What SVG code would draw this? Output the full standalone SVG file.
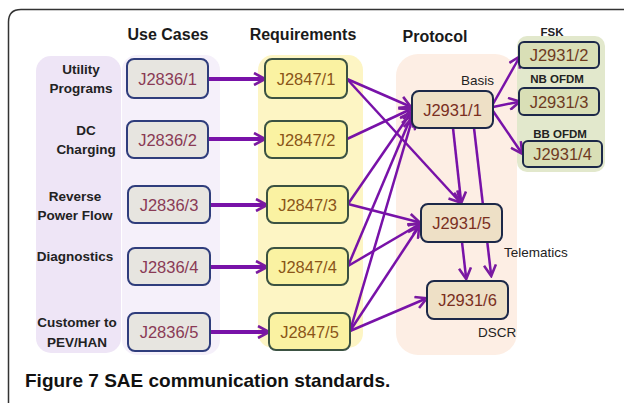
<svg xmlns="http://www.w3.org/2000/svg" width="624" height="403" viewBox="0 0 624 403">
<defs>
<style>
.hdr{font-family:"Liberation Sans",Arial,sans-serif;font-weight:bold;font-size:16px;fill:#1a1a1a;text-anchor:middle}
.lbl{font-family:"Liberation Sans",Arial,sans-serif;font-weight:bold;font-size:13.5px;fill:#222;text-anchor:middle}
.sm{font-family:"Liberation Sans",Arial,sans-serif;font-weight:bold;font-size:11.5px;fill:#222;text-anchor:middle}
.note{font-family:"Liberation Sans",Arial,sans-serif;font-size:13.5px;fill:#222}
.bt{font-family:"Liberation Sans",Arial,sans-serif;font-size:16.5px;text-anchor:middle}
.uc rect{fill:#e7e5e0;stroke:#2f3d7c;stroke-width:2}
.uc text{fill:#8a3a55}
.rq rect{fill:#faf2a2;stroke:#3b5242;stroke-width:2}
.rq text{fill:#8a5518}
.pr rect{fill:#eee0c6;stroke:#1c2848;stroke-width:2}
.pr text{fill:#7a2f1f}
.gr rect{fill:#d9dfb6;stroke:#1c2848;stroke-width:2}
.gr text{fill:#6e3a1f}
.h{stroke:#7812a8;stroke-width:4;fill:none;marker-end:url(#ah)}
.d{stroke:#7812a8;stroke-width:2.5;fill:none;marker-end:url(#ah)}
.cap{font-family:"Liberation Sans",Arial,sans-serif;font-weight:bold;font-size:19px;fill:#111}
</style>
<marker id="ah" viewBox="0 0 14 14" refX="10" refY="7" markerWidth="14" markerHeight="14" markerUnits="userSpaceOnUse" orient="auto">
<path d="M1,1 L12,7 L1,13" fill="none" stroke="#7a1aa0" stroke-width="2.6" stroke-linejoin="miter"/>
</marker>
</defs>
<rect width="624" height="403" fill="#fff"/>
<path d="M8.5,403 L8.5,22 Q8.5,9.5 21,9.5 L624,9.5" fill="none" stroke="#333" stroke-width="1.5"/>

<g id="backgrounds">
<rect x="36" y="56" width="85" height="297" rx="15" fill="#eee5f6"/>
<rect x="122" y="55" width="98" height="300" rx="15" fill="#f5f0fa"/>
<rect x="258" y="55" width="105" height="293" rx="15" fill="#fdf5c4"/>
<rect x="396" y="54" width="121" height="301" rx="22" fill="#fdeee4"/>
<rect x="517" y="36" width="88" height="136" rx="10" fill="#e2e8cc"/>
</g>

<g id="headers">
<text class="hdr" x="168" y="40">Use Cases</text>
<text class="hdr" x="303" y="40">Requirements</text>
<text class="hdr" x="435" y="42">Protocol</text>
</g>

<g id="labels">
<text class="lbl" x="81" y="74">Utility</text>
<text class="lbl" x="81" y="93">Programs</text>
<text class="lbl" x="86" y="135">DC</text>
<text class="lbl" x="86" y="154">Charging</text>
<text class="lbl" x="75" y="201">Reverse</text>
<text class="lbl" x="75" y="220">Power Flow</text>
<text class="lbl" x="75" y="261">Diagnostics</text>
<text class="lbl" x="77" y="327">Customer to</text>
<text class="lbl" x="77" y="347">PEV/HAN</text>
</g>

<g id="connectors">
<line class="h" x1="208" y1="79" x2="263" y2="79"/>
<line class="h" x1="208" y1="139" x2="263" y2="139"/>
<line class="h" x1="210" y1="205" x2="265" y2="205"/>
<line class="h" x1="210" y1="267" x2="265" y2="267"/>
<line class="h" x1="210" y1="332" x2="267" y2="332"/>
<line class="d" x1="347" y1="79" x2="409" y2="106"/>
<line class="d" x1="347" y1="79" x2="459" y2="201"/>
<line class="d" x1="347" y1="139" x2="409" y2="110"/>
<line class="d" x1="348" y1="204" x2="410" y2="114"/>
<line class="d" x1="348" y1="204" x2="418" y2="222"/>
<line class="d" x1="348" y1="266" x2="411" y2="117"/>
<line class="d" x1="348" y1="266" x2="418" y2="225"/>
<line class="d" x1="350" y1="331" x2="412" y2="120"/>
<line class="d" x1="350" y1="331" x2="418" y2="228"/>
<line class="d" x1="350" y1="331" x2="425" y2="299"/>
<line class="d" x1="493" y1="104" x2="519" y2="58"/>
<line class="d" x1="493" y1="107" x2="518" y2="102"/>
<line class="d" x1="493" y1="111" x2="521" y2="152"/>
<line class="d" x1="453" y1="128" x2="461" y2="201"/>
<line class="d" x1="474" y1="128" x2="491" y2="274"/>
<line class="d" x1="462" y1="242" x2="466" y2="277"/>
</g>

<g id="J2836-1" class="uc"><rect x="127" y="59" width="81" height="39" rx="7"/><text class="bt" x="167.5" y="84.5">J2836/1</text></g>
<g id="J2836-2" class="uc"><rect x="127" y="121" width="81" height="37" rx="7"/><text class="bt" x="167.5" y="145.5">J2836/2</text></g>
<g id="J2836-3" class="uc"><rect x="128" y="186" width="82" height="37" rx="7"/><text class="bt" x="169" y="210.5">J2836/3</text></g>
<g id="J2836-4" class="uc"><rect x="128" y="248" width="82" height="37" rx="7"/><text class="bt" x="169" y="272.5">J2836/4</text></g>
<g id="J2836-5" class="uc"><rect x="128" y="313" width="82" height="38" rx="7"/><text class="bt" x="169" y="338">J2836/5</text></g>

<g id="J2847-1" class="rq"><rect x="265" y="59" width="82" height="39" rx="7"/><text class="bt" x="306" y="84.5">J2847/1</text></g>
<g id="J2847-2" class="rq"><rect x="265" y="121" width="82" height="37" rx="7"/><text class="bt" x="306" y="145.5">J2847/2</text></g>
<g id="J2847-3" class="rq"><rect x="267" y="186" width="81" height="37" rx="7"/><text class="bt" x="307.5" y="210.5">J2847/3</text></g>
<g id="J2847-4" class="rq"><rect x="267" y="248" width="81" height="37" rx="7"/><text class="bt" x="307.5" y="272.5">J2847/4</text></g>
<g id="J2847-5" class="rq"><rect x="269" y="313" width="81" height="37" rx="7"/><text class="bt" x="309.5" y="337.5">J2847/5</text></g>

<g id="J2931-1" class="pr"><rect x="412" y="91" width="81" height="37" rx="7"/><text class="bt" x="452.5" y="115.5">J2931/1</text></g>
<g id="J2931-5" class="pr"><rect x="421" y="204" width="81" height="38" rx="7"/><text class="bt" x="461.5" y="229">J2931/5</text></g>
<g id="J2931-6" class="pr"><rect x="427" y="281" width="81" height="38" rx="7"/><text class="bt" x="467.5" y="306">J2931/6</text></g>

<g id="J2931-2" class="gr"><rect x="519" y="42" width="80" height="26" rx="5"/><text class="bt" x="559" y="61">J2931/2</text></g>
<g id="J2931-3" class="gr"><rect x="519" y="88" width="80" height="27" rx="5"/><text class="bt" x="559" y="107.5">J2931/3</text></g>
<g id="J2931-4" class="gr"><rect x="523" y="141" width="79" height="26" rx="5"/><text class="bt" x="562.5" y="160">J2931/4</text></g>

<g id="annotations">
<text class="sm" x="552" y="36">FSK</text>
<text class="sm" x="557" y="83">NB OFDM</text>
<text class="sm" x="560" y="138">BB OFDM</text>
<text class="note" x="494" y="85" text-anchor="end">Basis</text>
<text class="note" x="504" y="257">Telematics</text>
<text class="note" x="478" y="337">DSCR</text>
</g>

<text class="cap" x="25" y="387">Figure 7 SAE communication standards.</text>
</svg>
